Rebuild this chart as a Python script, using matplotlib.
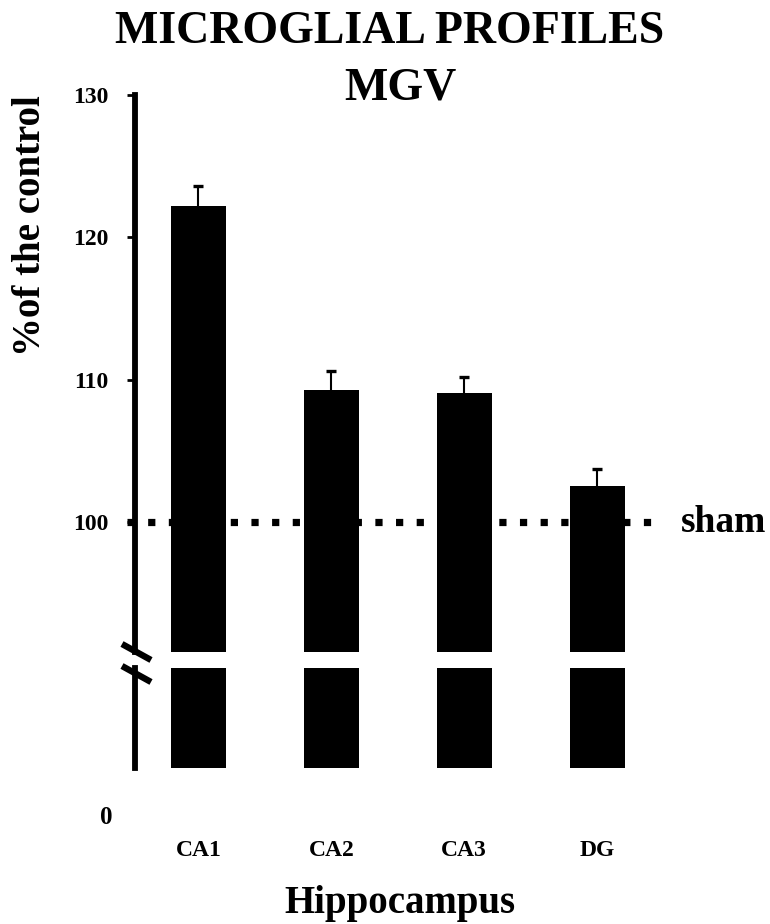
"""Microglial profiles (MGV) in hippocampus, % of the sham control.

Broken y axis: upper panel 90-130, lower stub panel near 0.
Writes out.png (770x924).
"""

import matplotlib
matplotlib.use("Agg")
import matplotlib.pyplot as plt  # noqa: E402
from matplotlib.lines import Line2D  # noqa: E402

regions = ["CA1", "CA2", "CA3", "DG"]
mgv = [122.2, 109.3, 109.1, 102.5]
sem = [1.4, 1.3, 1.1, 1.2]
sham_level = 100
yticks = [100, 110, 120, 130]

W, H = 770, 924
FONT = "Liberation Serif"
plt.rcParams["font.family"] = [FONT, "DejaVu Serif"]
plt.rcParams["font.weight"] = "bold"


def fx(px):
    return px / W


def fy(px):
    return 1 - px / H


def main() -> None:
    fig = plt.figure(figsize=(W / 100, H / 100), dpi=100)

    left, right = 135, 660
    # upper panel (90.9 .. 130), lower stub panel
    ax = fig.add_axes([fx(left), fy(652), fx(right - left), (652 - 95) / H])
    ax2 = fig.add_axes([fx(left), fy(768), fx(right - left), (768 - 668) / H])

    x = list(range(len(regions)))
    bar_w = 0.414
    xlim = (-0.478, 3.474)

    ax.bar(x, mgv, width=bar_w, color="black", zorder=3)
    _, caps, _ = ax.errorbar(x, mgv, yerr=[[0] * len(sem), sem], fmt="none",
                             ecolor="black", elinewidth=1.5, capsize=3.5,
                             capthick=2.4, zorder=2)
    caps[0].set_visible(False)  # upper-only error bars
    ax.axhline(sham_level, xmin=-0.0152, xmax=0.99, color="black", lw=5.2,
               dashes=(1, 1.86), clip_on=False, zorder=1)
    ax.text(1.04, sham_level, "sham", transform=ax.get_yaxis_transform(),
            fontsize=27, fontweight="bold", va="center", ha="left")

    ax.set_xlim(*xlim)
    ax.set_ylim(90.87, 130)
    ax.set_yticks(yticks)
    ax.set_yticklabels([str(t) for t in yticks])
    ax.tick_params(axis="y", length=6, width=2, pad=13, labelsize=17)
    ax.set_xticks([])
    for s in ["top", "right", "bottom"]:
        ax.spines[s].set_visible(False)
    ax.spines["left"].set_linewidth(4.2)
    ax.spines["left"].set_zorder(4)

    ax2.bar(x, mgv, width=bar_w, color="black")
    ax2.set_xlim(*xlim)
    ax2.set_ylim(0, 10)
    ax2.set_yticks([])
    ax2.set_xticks(x)
    ax2.set_xticklabels(regions, fontsize=17, fontweight="bold")
    ax2.tick_params(axis="x", length=0, pad=52)
    for s in ["top", "right", "bottom"]:
        ax2.spines[s].set_visible(False)
    ax2.spines["left"].set_linewidth(4.2)
    ax2.text(-0.055, -0.5, "0", transform=ax2.transAxes, fontsize=18,
             fontweight="bold", ha="center", va="center")

    # axis break marks
    for y0 in (644, 666):
        fig.add_artist(Line2D([fx(122), fx(151)], [fy(y0), fy(y0 + 16)],
                              transform=fig.transFigure, color="black",
                              lw=4.6, solid_capstyle="butt"))

    fig.text(fx(390), fy(43), "MICROGLIAL PROFILES", fontsize=33,
             fontweight="bold", ha="center", va="baseline")
    fig.text(fx(400), fy(100), "MGV", fontsize=33, fontweight="bold",
             ha="center", va="baseline")
    fig.text(fx(31), fy(226), "%of the control", fontsize=28,
             fontweight="bold", rotation=90, ha="center", va="center")
    fig.text(fx(400), fy(913), "Hippocampus", fontsize=28,
             fontweight="bold", ha="center", va="baseline")

    fig.savefig("out.png", dpi=100)


if __name__ == "__main__":
    main()
